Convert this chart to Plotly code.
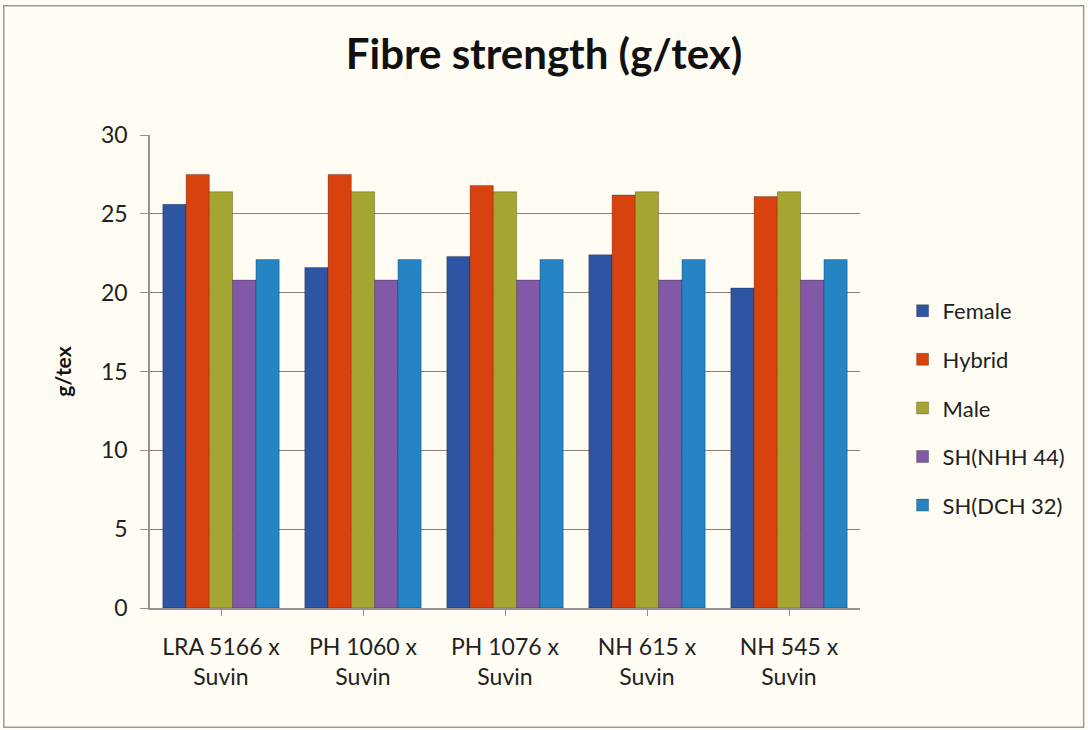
import plotly.graph_objects as go

# Crosses (female parent x Suvin)
categories = ["LRA 5166 x<br>Suvin", "PH 1060 x<br>Suvin", "PH 1076 x<br>Suvin",
              "NH 615 x<br>Suvin", "NH 545 x<br>Suvin"]

# Fibre strength in g/tex
female = [25.6, 21.6, 22.3, 22.4, 20.3]
hybrid = [27.5, 27.5, 26.8, 26.2, 26.1]
male = [26.4, 26.4, 26.4, 26.4, 26.4]
sh_nhh44 = [20.8, 20.8, 20.8, 20.8, 20.8]
sh_dch32 = [22.1, 22.1, 22.1, 22.1, 22.1]

series = [
    ("Female", female, "#2E55A3"),
    ("Hybrid", hybrid, "#D8420F"),
    ("Male", male, "#A4A631"),
    ("SH(NHH 44)", sh_nhh44, "#8259A6"),
    ("SH(DCH 32)", sh_dch32, "#2584C3"),
]

FONT = "Lato, 'Open Sans', sans-serif"
BG = "#FFFDF3"

fig = go.Figure()
for name, vals, col in series:
    fig.add_trace(go.Bar(
        name=name, x=categories, y=vals, legendgroup=name,
        marker=dict(color=col, line=dict(color="rgba(0,0,0,0.25)", width=1)),
    ))

fig.update_layout(
    width=1088, height=730,
    paper_bgcolor=BG, plot_bgcolor=BG,
    barmode="group", bargap=0.18, bargroupgap=0.0,
    margin=dict(l=150, r=228, t=135, b=122),
    title=dict(text="<b>Fibre strength (g/tex)</b>", x=0.5, xanchor="center",
               y=0.925, yanchor="middle",
               font=dict(family=FONT, size=42, color="#111111")),
    font=dict(family=FONT, size=20, color="#222222"),
    legend=dict(x=1.06, y=0.423, xanchor="left", yanchor="middle",
                bgcolor="rgba(0,0,0,0)", font=dict(family=FONT, size=22, color="#222222"),
                tracegroupgap=17, itemwidth=30, traceorder="grouped"),
    xaxis=dict(showgrid=False, showline=True, linecolor="#9C8E92", linewidth=1.5,
               ticks="outside", ticklen=6, tickcolor="#9C8E92", ticklabelstandoff=12,
               tickfont=dict(family=FONT, size=23, color="#222222")),
    yaxis=dict(range=[0, 30], tickvals=[0, 5, 10, 15, 20, 25, 30],
               showgrid=True, gridcolor="#8F7F82", gridwidth=1,
               showline=True, linecolor="#9C8E92", linewidth=1.5,
               ticks="outside", ticklen=8, tickcolor="#9C8E92", ticklabelstandoff=8,
               tickfont=dict(family=FONT, size=23, color="#222222"),
               title=dict(text="<b>g/tex</b>", font=dict(family=FONT, size=21, color="#111111"),
                          standoff=24),
               zeroline=False),
    shapes=[dict(type="rect", xref="paper", yref="paper",
                 x0=-0.206, x1=1.315, y0=-0.252, y1=1.273,
                 line=dict(color="#9A9A9A", width=1.5), fillcolor="rgba(0,0,0,0)",
                 layer="below")],
)

fig.write_html("out.html")
